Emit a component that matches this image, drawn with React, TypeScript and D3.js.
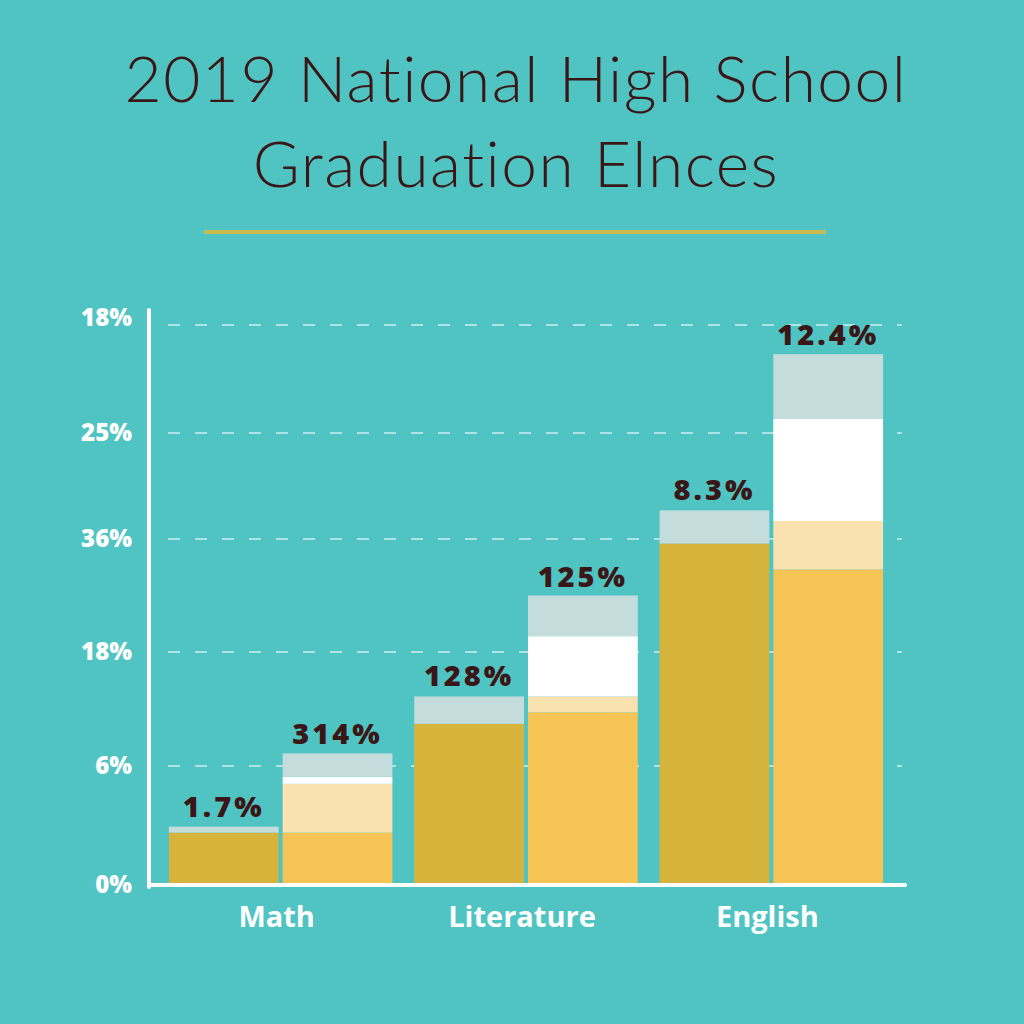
import React from 'react';
import * as d3 from 'd3';

const categories = ['Math', 'Literature', 'English'];
const yTickLabels = ['0%', '6%', '18%', '36%', '25%', '18%'];
// left bar of each group (dark gold base + grey cap), in axis-tick units
const leftBase = [0.44, 1.37, 2.96];
const leftCap = [0.05, 0.24, 0.31];
// right bar of each group (yellow base + cream + white + grey cap)
const rightBase = [0.44, 1.47, 2.73];
const rightCream = [0.41, 0.14, 0.44];
const rightWhite = [0.06, 0.53, 0.96];
const rightCap = [0.2, 0.36, 0.6];
const leftLabels = ['1.7%', '128%', '8.3%'];
const rightLabels = ['314%', '125%', '12.4%'];
const titleLines = ['2019 National High School', 'Graduation Elnces'];

const BG = '#50c4c3';
const TEXT_DARK = '#3a1616';
const leftColors: Record<string, string> = { base: '#d6b43c', cap: '#c5dcdc' };
const rightColors: Record<string, string> = {
  base: '#f5c454',
  cream: '#f9e1b0',
  white: '#ffffff',
  cap: '#c5dcdc',
};

export default function App() {
  const W = 1024;
  const H = 1024;
  const x0 = 149;
  const x1 = 905;
  const yBase = 885;

  // tick positions in the reference are not evenly spaced
  const y = d3
    .scaleLinear()
    .domain([0, 1, 2, 3, 4, 5])
    .range([yBase, 766, 652, 539, 433, 325]);
  const x = d3
    .scaleBand<string>()
    .domain(categories)
    .range([158, 894])
    .paddingInner(0.089)
    .paddingOuter(0.0445);
  const xs = d3
    .scaleBand<string>()
    .domain(['left', 'right'])
    .range([0, x.bandwidth()])
    .paddingInner(0.035);

  const leftRows = categories.map((c, i) => ({ cat: c, base: leftBase[i], cap: leftCap[i] }));
  const rightRows = categories.map((c, i) => ({
    cat: c,
    base: rightBase[i],
    cream: rightCream[i],
    white: rightWhite[i],
    cap: rightCap[i],
  }));
  const leftStack = d3.stack<any>().keys(['base', 'cap'])(leftRows);
  const rightStack = d3.stack<any>().keys(['base', 'cream', 'white', 'cap'])(rightRows);

  const ticks = d3.range(yTickLabels.length);

  const labelFont = "'Open Sans', 'DejaVu Sans', sans-serif";

  return (
    <svg
      width={W}
      height={H}
      style={{ position: 'absolute', left: 0, top: 0, display: 'block' }}
    >
      <rect x={0} y={0} width={W} height={H} fill={BG} />
      {/* Title */}
      {titleLines.map((t, i) => (
        <text
          key={t}
          x={516}
          y={102 + i * 85}
          textAnchor="middle"
          fontFamily="Lato, 'Noto Sans', sans-serif"
          fontWeight={300}
          fontSize={64}
          letterSpacing={1.5}
          style={{ fontVariantLigatures: 'none' }}
          fill={TEXT_DARK}
        >
          {t}
        </text>
      ))}
      <line x1={204} x2={826} y1={232} y2={232} stroke="#c8bd55" strokeWidth={4} />

      {/* gridlines */}
      {ticks
        .filter((t) => t > 0)
        .map((t) => (
          <line
            key={'g' + t}
            x1={168}
            x2={902}
            y1={y(t)}
            y2={y(t)}
            stroke="#ffffff"
            strokeOpacity={0.55}
            strokeWidth={2}
            strokeDasharray="12 15"
          />
        ))}

      {/* y tick labels */}
      {ticks.map((t) => (
        <text
          key={'yl' + t}
          x={132}
          y={y(t) + (t === 5 ? -7 : 0)}
          dy="0.35em"
          textAnchor="end"
          fontFamily={labelFont}
          fontWeight={800}
          fontSize={24}
          fill="#ffffff"
        >
          {yTickLabels[t]}
        </text>
      ))}

      {/* bars */}
      {leftStack.map((s) => (
        <g key={'l' + s.key} fill={leftColors[s.key]}>
          {s.map((d: any) => (
            <rect
              key={d.data.cat}
              x={(x(d.data.cat) ?? 0) + (xs('left') ?? 0)}
              y={y(d[1])}
              width={xs.bandwidth()}
              height={y(d[0]) - y(d[1])}
            />
          ))}
        </g>
      ))}
      {rightStack.map((s) => (
        <g key={'r' + s.key} fill={rightColors[s.key]}>
          {s.map((d: any) => (
            <rect
              key={d.data.cat}
              x={(x(d.data.cat) ?? 0) + (xs('right') ?? 0)}
              y={y(d[1])}
              width={xs.bandwidth()}
              height={y(d[0]) - y(d[1])}
            />
          ))}
        </g>
      ))}

      {/* value labels */}
      {categories.map((c, i) => {
        const lTop = leftStack[leftStack.length - 1][i][1];
        const rTop = rightStack[rightStack.length - 1][i][1];
        return (
          <g
            key={'v' + c}
            fontFamily={labelFont}
            fontWeight={800}
            fontSize={29}
            fill={TEXT_DARK}
            textAnchor="middle"
            letterSpacing={3}
          >
            <text x={(x(c) ?? 0) + (xs('left') ?? 0) + xs.bandwidth() / 2} y={y(lTop) - 10}>
              {leftLabels[i]}
            </text>
            <text x={(x(c) ?? 0) + (xs('right') ?? 0) + xs.bandwidth() / 2} y={y(rTop) - 9}>
              {rightLabels[i]}
            </text>
          </g>
        );
      })}

      {/* axes */}
      <line x1={x0} x2={x0} y1={310} y2={yBase + 2} stroke="#ffffff" strokeWidth={4} strokeLinecap="round" />
      <line x1={x0} x2={x1} y1={yBase} y2={yBase} stroke="#ffffff" strokeWidth={4} strokeLinecap="round" />

      {/* category labels */}
      {categories.map((c) => (
        <text
          key={'c' + c}
          x={(x(c) ?? 0) + x.bandwidth() / 2 - 4}
          y={927}
          textAnchor="middle"
          fontFamily={labelFont}
          fontWeight={700}
          fontSize={29}
          fill="#ffffff"
        >
          {c}
        </text>
      ))}
    </svg>
  );
}
